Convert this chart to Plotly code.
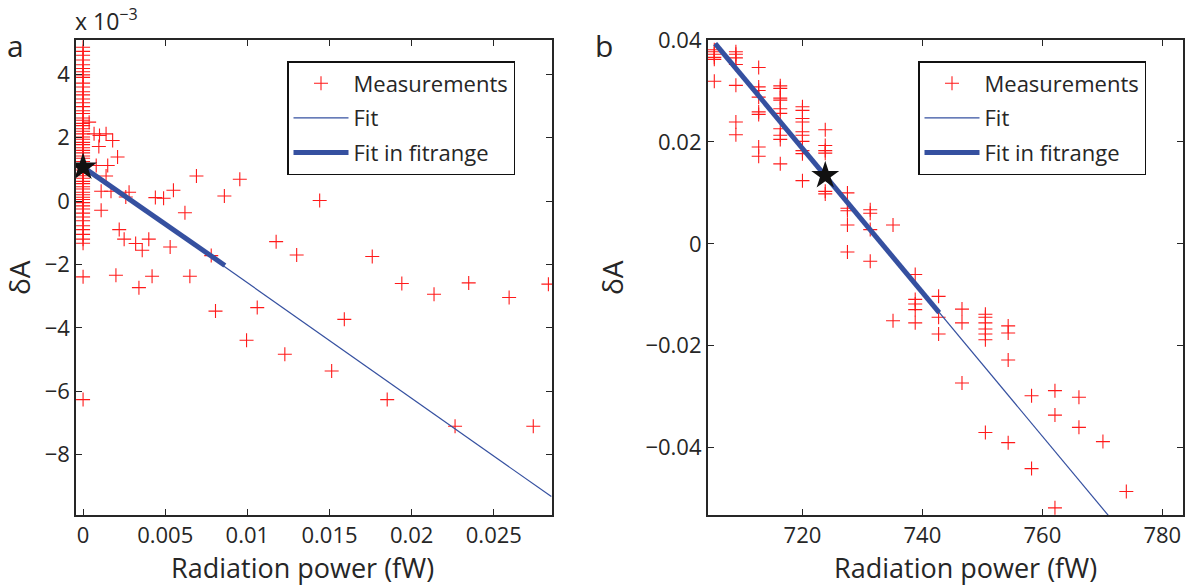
import plotly.graph_objects as go

# ---------------- data ----------------
# Panel a: radiation power (fW) and deltaA (in units of 1e-3)
A_COL_Y = [4.85, 4.72, 4.6, 4.45, 4.3, 4.18, 4.08, 3.98, 3.9, 3.72, 3.6, 3.45, 3.35, 3.22,
           3.1, 2.98, 2.85, 2.76, 2.62, 2.55, 2.45, 2.38, 2.28, 2.2, 2.12, 2.02, 1.95, 1.85,
           1.78, 1.68, 1.6, 1.52, 1.42, 1.35, 1.25, 1.18, 1.05, 0.98, 0.88, 0.8, 0.72, 0.62,
           0.55, 0.45, 0.38, 0.28, 0.2, 0.12, 0.05, -0.05, -0.15, -0.25, -0.38, -0.5, -0.62,
           -0.78, -0.9, -1.05, -1.2, -1.33, -2.39, -6.26]
A_COL_X = [0.0] * len(A_COL_Y)
A_SCAT_X = [0.00037, 0.00067, 0.001, 0.0014, 0.00096, 0.0018, 0.0021, 0.0015, 0.0008,
            0.0014, 0.0011, 0.0017, 0.0028, 0.0026, 0.0011, 0.0044, 0.0049, 0.0055, 0.0062,
            0.0069, 0.0022, 0.0025, 0.0032, 0.0036, 0.004, 0.0053, 0.002, 0.0034, 0.0042,
            0.0065, 0.00954, 0.0086, 0.0144, 0.01175, 0.013, 0.0176, 0.0078, 0.0194,
            0.02136, 0.02347, 0.02593, 0.02832, 0.00806, 0.0106, 0.0159, 0.00995, 0.01228,
            0.01513, 0.01851, 0.02264, 0.0274]
A_SCAT_Y = [2.49, 2.12, 2.07, 2.12, 1.72, 1.91, 1.39, 1.12, 1.12,
            0.79, 0.31, 0.31, 0.28, 0.13, -0.29, 0.11, 0.09, 0.34, -0.37,
            0.79, -0.9, -1.2, -1.34, -1.55, -1.2, -1.45, -2.34, -2.73, -2.37,
            -2.37, 0.69, 0.16, 0.02, -1.28, -1.7, -1.75, -1.72, -2.6,
            -2.94, -2.58, -3.04, -2.62, -3.47, -3.36, -3.73, -4.39, -4.83,
            -5.36, -6.26, -7.1, -7.1]
A_FIT_X = [0.0, 0.0285]
A_FIT_Y = [1.07, -9.32]
A_RANGE_X = [0.0, 0.00863]
A_RANGE_Y = [1.07, -2.03]
A_STAR_X = [0.0]
A_STAR_Y = [1.07]

# Panel b
B_X = [705.3, 705.3, 705.3, 705.3, 705.3, 705.3,
       708.9, 708.9, 708.9, 708.9, 708.9, 708.9, 708.9,
       712.7, 712.7, 712.7, 712.7, 712.7, 712.7, 712.7, 712.7,
       716.3, 716.3, 716.3, 716.3, 716.3, 716.3, 716.3, 716.3, 716.3, 716.3,
       720.0, 720.0, 720.0, 720.0, 720.0, 720.0, 720.0, 720.0, 720.0, 720.0,
       723.8, 723.8, 723.8, 723.8, 723.8, 723.8,
       727.5, 727.5, 727.5, 727.5, 727.5,
       731.3, 731.3, 731.3, 731.3,
       735.1, 735.1,
       738.8, 738.8, 738.8, 738.8, 738.8,
       742.7, 742.7, 742.7,
       746.6, 746.6, 746.6,
       750.5, 750.5, 750.5, 750.5, 750.5, 750.5, 750.5,
       754.3, 754.3, 754.3, 754.3,
       758.2, 758.2,
       762.1, 762.1, 762.1,
       766.1, 766.1,
       770.1,
       774.0]
B_Y = [0.0381, 0.0377, 0.0372, 0.0366, 0.0362, 0.0319,
       0.0377, 0.0372, 0.0365, 0.0352, 0.0311, 0.0239, 0.0214,
       0.0346, 0.0308, 0.0301, 0.0288, 0.0259, 0.0254, 0.0190, 0.0172,
       0.0310, 0.0305, 0.0286, 0.0282, 0.0265, 0.0256, 0.0226, 0.0213, 0.0205, 0.0157,
       0.0269, 0.0262, 0.0246, 0.0239, 0.0220, 0.0213, 0.0201, 0.0183, 0.0177, 0.0124,
       0.0224, 0.0193, 0.0183, 0.0178, 0.0103, 0.0098,
       0.0100, 0.0070, 0.0065, 0.0037, -0.0016,
       0.0067, 0.0060, 0.0028, -0.0034,
       0.0037, -0.0151,
       -0.0060, -0.0109, -0.0129, -0.0155, -0.0118,
       -0.0103, -0.0144, -0.0177,
       -0.0128, -0.0155, -0.0273,
       -0.0138, -0.0144, -0.0155, -0.0167, -0.0177, -0.0188, -0.0370,
       -0.0161, -0.0175, -0.0228, -0.0390,
       -0.0298, -0.0441,
       -0.0288, -0.0336, -0.0518,
       -0.0301, -0.0360,
       -0.0388,
       -0.0486]
B_FIT_X = [705.45, 783.4]
B_FIT_Y = [0.0393, -0.0708]
B_RANGE_X = [705.45, 742.8]
B_RANGE_Y = [0.0393, -0.0135]
B_STAR_X = [723.8]
B_STAR_Y = [0.0134]

A_XTICKS = [0, 0.005, 0.01, 0.015, 0.02, 0.025]
A_YTICKS = [-8, -6, -4, -2, 0, 2, 4]
B_XTICKS = [720, 740, 760, 780]
B_YTICKS = [-0.04, -0.02, 0, 0.02, 0.04]

X_TITLE = "Radiation power (fW)"
Y_TITLE = "\u03b4A"

# ---------------- style ----------------
FONT = "Open Sans"
INK = "#262626"
RED = "#ff1a1a"
BLUE = "#3550a0"

fig = go.Figure()


def add_panel(xs, ys, fx, fy, rx, ry, sx, sy, xa, ya, leg):
    fig.add_trace(go.Scatter(x=xs, y=ys, mode="markers", name="Measurements",
                             marker=dict(symbol="cross-thin", size=10, color=RED,
                                         line=dict(color=RED, width=1.1)),
                             xaxis=xa, yaxis=ya, legend=leg, legendgroup="m"))
    fig.add_trace(go.Scatter(x=fx, y=fy, mode="lines", name="Fit",
                             line=dict(color=BLUE, width=1.2),
                             xaxis=xa, yaxis=ya, legend=leg, legendgroup="f"))
    fig.add_trace(go.Scatter(x=rx, y=ry, mode="lines", name="Fit in fitrange",
                             line=dict(color=BLUE, width=5),
                             xaxis=xa, yaxis=ya, legend=leg, legendgroup="r"))
    fig.add_trace(go.Scatter(x=sx, y=sy, mode="markers", showlegend=False,
                             marker=dict(symbol="star", size=21, color="#111111",
                                         line=dict(width=0)),
                             xaxis=xa, yaxis=ya))


add_panel(A_COL_X + A_SCAT_X, A_COL_Y + A_SCAT_Y, A_FIT_X, A_FIT_Y, A_RANGE_X, A_RANGE_Y,
          A_STAR_X, A_STAR_Y, "x", "y", "legend")
add_panel(B_X, B_Y, B_FIT_X, B_FIT_Y, B_RANGE_X, B_RANGE_Y,
          B_STAR_X, B_STAR_Y, "x2", "y2", "legend2")

W, H = 1191, 586
top = 1 - 40 / H
bot = 1 - 515 / H

axis_common = dict(showline=True, linecolor=INK, linewidth=1.6, mirror="allticks",
                   ticks="inside", ticklen=6, tickwidth=1.2, tickcolor=INK,
                   showgrid=False, zeroline=False, automargin=False,
                   tickfont=dict(family=FONT, size=22, color=INK))
LEG = dict(xanchor="left", yanchor="top", bgcolor="white", bordercolor="#111111",
           borderwidth=1.5, font=dict(family=FONT, size=22, color=INK),
           traceorder="grouped", tracegroupgap=3, itemwidth=55)

fig.update_layout(
    width=W, height=H, margin=dict(l=0, r=0, t=0, b=0, autoexpand=False),
    paper_bgcolor="white", plot_bgcolor="white",
    font=dict(family=FONT, color=INK),
    xaxis=dict(domain=[76 / W, 552 / W], range=[-0.00043, 0.02854],
               tickvals=A_XTICKS, ticktext=["0", "0.005", "0.01", "0.015", "0.02", "0.025"],
               anchor="y", **axis_common),
    yaxis=dict(domain=[bot, top], range=[-9.9, 5.08], tickvals=A_YTICKS,
               ticktext=["\u22128", "\u22126", "\u22124", "\u22122", "0", "2", "4"],
               anchor="x", **axis_common),
    xaxis2=dict(domain=[707.7 / W, 1182.7 / W], range=[704.2, 783.4],
                tickvals=B_XTICKS, ticktext=[str(v) for v in B_XTICKS],
                anchor="y2", **axis_common),
    yaxis2=dict(domain=[bot, top], range=[-0.0532, 0.04], tickvals=B_YTICKS,
                ticktext=["\u22120.04", "\u22120.02", "0", "0.02", "0.04"],
                anchor="x2", **axis_common),
    legend=dict(x=287 / W, y=1 - 61 / H, **LEG),
    legend2=dict(x=918 / W, y=1 - 61 / H, **LEG),
    showlegend=True,
)


def note(text, px, py, size, angle=0, xanchor="center"):
    fig.add_annotation(text=text, x=px / W, y=1 - py / H, xref="paper", yref="paper",
                       xanchor=xanchor, yanchor="middle", showarrow=False, textangle=angle,
                       borderpad=0, font=dict(family=FONT, size=size, color=INK))


note(X_TITLE, 302, 567, 27)
note(X_TITLE, 965, 567, 27)
note(Y_TITLE, 19, 278, 28, angle=-90)
note(Y_TITLE, 612, 278, 28, angle=-90)
note("a", 6, 45, 30, xanchor="left")
note("b", 594, 45, 30, xanchor="left")
note("x 10<sup>\u22123</sup>", 74, 20, 23, xanchor="left")

fig.write_html("out.html", config={"displayModeBar": False},
               post_script="document.body.style.margin='0';")
